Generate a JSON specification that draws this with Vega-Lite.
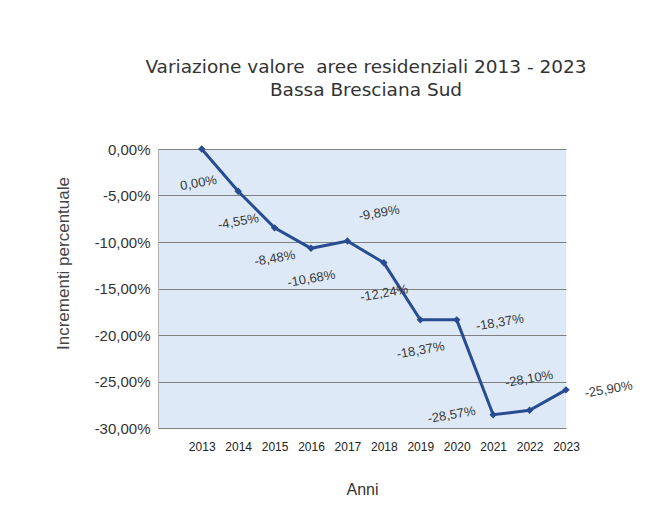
{
  "$schema": "https://vega.github.io/schema/vega-lite/v6.json",
  "autosize": {"type": "none"},
  "padding": {"left": 158, "top": 149, "right": 91, "bottom": 90},
  "width": 408,
  "height": 279,
  "background": "white",
  "config": {
    "locale": {"number": {"decimal": ",", "thousands": ".", "grouping": [3], "currency": ["€", ""], "minus": "-"}},
    "view": {"stroke": null, "fill": "#dde9f6"},
    "font": "Liberation Sans"
  },
  "title": {
    "text": ["Variazione valore\u00a0 aree residenziali 2013 - 2023", "Bassa Bresciana Sud"],
    "font": "DejaVu Sans",
    "fontSize": 18.5,
    "fontWeight": "normal",
    "color": "#333333",
    "lineHeight": 23,
    "anchor": "middle",
    "dx": 4,
    "offset": 43
  },
  "data": {
    "values": [
      {"anno": 2013, "valore": 0.0},
      {"anno": 2014, "valore": -0.0455},
      {"anno": 2015, "valore": -0.0848},
      {"anno": 2016, "valore": -0.1068},
      {"anno": 2017, "valore": -0.0989},
      {"anno": 2018, "valore": -0.1224},
      {"anno": 2019, "valore": -0.1837},
      {"anno": 2020, "valore": -0.1837},
      {"anno": 2021, "valore": -0.2857},
      {"anno": 2022, "valore": -0.2810},
      {"anno": 2023, "valore": -0.2590}
    ]
  },
  "encoding": {
    "x": {
      "field": "anno",
      "type": "quantitative",
      "scale": {"domain": [2011.8, 2023], "nice": false, "zero": false},
      "axis": {
        "title": "Anni",
        "values": [2013, 2014, 2015, 2016, 2017, 2018, 2019, 2020, 2021, 2022, 2023],
        "format": "d",
        "grid": false,
        "ticks": false,
        "domain": false,
        "labelFontSize": 12,
        "labelColor": "#222222",
        "labelPadding": 13,
        "labelFlush": false,
        "titleFontSize": 16,
        "titleFontWeight": "normal",
        "titleColor": "#333333",
        "titlePadding": 29
      }
    },
    "y": {
      "field": "valore",
      "type": "quantitative",
      "scale": {"domain": [-0.3, 0], "nice": false},
      "axis": {
        "title": "Incrementi percentuale",
        "format": ".2%",
        "values": [0, -0.05, -0.1, -0.15, -0.2, -0.25, -0.3],
        "grid": true,
        "gridColor": "#808080",
        "gridWidth": 1,
        "ticks": false,
        "domain": true,
        "domainColor": "#b0b0b0",
        "labelFontSize": 15,
        "labelColor": "#333333",
        "labelPadding": 8,
        "titleFontSize": 17,
        "titleFontWeight": "normal",
        "titleColor": "#444444",
        "titleX": -86,
        "titleY": 114
      }
    }
  },
  "layer": [
    {
      "mark": {"type": "line", "color": "#274c91", "strokeWidth": 3,
        "point": {"shape": "diamond", "filled": true, "size": 55, "color": "#274c91"}}
    },
    {
      "transform": [{"filter": "datum.anno == 2014 || datum.anno == 2015 || datum.anno == 2016 || datum.anno == 2018 || datum.anno == 2019"}],
      "mark": {"type": "text", "angle": 350, "dx": -5, "dy": 30, "fontSize": 13, "color": "#3a3a3a"},
      "encoding": {"text": {"field": "valore", "type": "quantitative", "format": ".2%"}}
    },
    {
      "transform": [{"filter": "datum.anno == 2013"}],
      "mark": {"type": "text", "angle": 350, "dx": -9, "dy": 33, "fontSize": 13, "color": "#3a3a3a"},
      "encoding": {"text": {"field": "valore", "type": "quantitative", "format": ".2%"}}
    },
    {
      "transform": [{"filter": "datum.anno == 2017"}],
      "mark": {"type": "text", "angle": 350, "dx": 36, "dy": -22, "fontSize": 13, "color": "#3a3a3a"},
      "encoding": {"text": {"field": "valore", "type": "quantitative", "format": ".2%"}}
    },
    {
      "transform": [{"filter": "datum.anno == 2020"}],
      "mark": {"type": "text", "angle": 350, "dx": 42, "dy": 10, "fontSize": 13, "color": "#3a3a3a"},
      "encoding": {"text": {"field": "valore", "type": "quantitative", "format": ".2%"}}
    },
    {
      "transform": [{"filter": "datum.anno == 2023"}],
      "mark": {"type": "text", "angle": 350, "dx": 42, "dy": 7, "fontSize": 13, "color": "#3a3a3a"},
      "encoding": {"text": {"field": "valore", "type": "quantitative", "format": ".2%"}}
    },
    {
      "transform": [{"filter": "datum.anno == 2021"}],
      "mark": {"type": "text", "angle": 350, "dx": -41, "dy": -7, "fontSize": 13, "color": "#3a3a3a"},
      "encoding": {"text": {"field": "valore", "type": "quantitative", "format": ".2%"}}
    },
    {
      "transform": [{"filter": "datum.anno == 2022"}],
      "mark": {"type": "text", "angle": 350, "dx": 5, "dy": -31, "fontSize": 13, "color": "#3a3a3a"},
      "encoding": {"text": {"field": "valore", "type": "quantitative", "format": ".2%"}}
    }
  ]
}
